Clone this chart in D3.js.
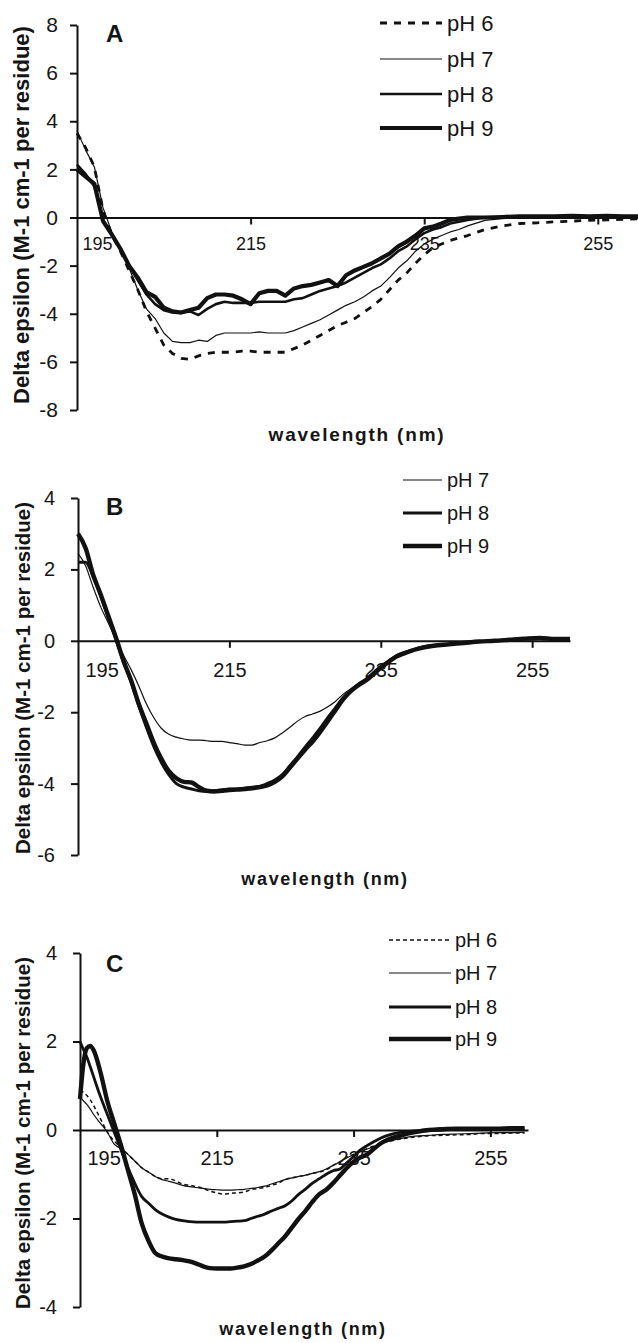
<!DOCTYPE html>
<html>
<head>
<meta charset="utf-8">
<script src="https://cdn.jsdelivr.net/npm/d3@7"></script>
<style>
  body { margin: 0; background: #fff; }
  svg text { font-family: Arial, "Liberation Sans", sans-serif; fill: #151515; }
</style>
</head>
<body>
<div id="chart"></div>
<script>
// wavelengths (nm) used in panels A and B
const wavelengthAB = [195,196,197,198,199,200,201,202,203,204,205,206,207,208,209,210,211,212,213,214,
  215,216,217,218,219,220,221,222,223,224,225,226,227,228,229,230,231,232,233,234,235,236,237,238,239,240,
  242,244,246,248,250,252,254,256,258,260];
// panel C has two extra points at the start
const wavelengthC = [195,195.5,196,196.5,197,198,199,200,201,202,203,204,205,206,207,208,209,210,211,212,213,214,
  215,216,217,218,219,220,221,222,223,224,225,226,227,228,229,230,231,232,233,234,235,236,237,238,239,240,
  242,244,246,248,250,252,254,256,258,260];

const xTicks = [195, 215, 235, 255];
const yTicksA = [-8, -6, -4, -2, 0, 2, 4, 6, 8];
const yTicksB = [-6, -4, -2, 0, 2, 4];
const yTicksC = [-4, -2, 0, 2, 4];

// panel A
const pH6A = [3.5,2.9,2.1,0.3,-0.7,-1.4,-2.2,-3.0,-3.9,-4.6,
  -5.3,-5.65,-5.85,-5.9,-5.75,-5.65,-5.6,-5.6,-5.6,-5.55,
  -5.55,-5.6,-5.6,-5.6,-5.6,-5.45,-5.3,-5.1,-4.9,-4.7,
  -4.5,-4.35,-4.2,-3.95,-3.7,-3.4,-3.0,-2.6,-2.3,-1.9,
  -1.55,-1.25,-1.1,-0.95,-0.85,-0.75,
  -0.5,-0.35,-0.25,-0.22,-0.18,-0.15,-0.12,-0.1,-0.08,-0.05];
const pH7A = [3.6,2.8,2.1,0.4,-0.6,-1.3,-2.1,-3.0,-3.8,-4.2,
  -4.8,-5.15,-5.2,-5.2,-5.1,-5.15,-4.9,-4.8,-4.8,-4.8,
  -4.8,-4.75,-4.8,-4.8,-4.8,-4.7,-4.55,-4.4,-4.25,-4.05,
  -3.85,-3.65,-3.5,-3.3,-3.05,-2.85,-2.5,-2.1,-1.8,-1.4,
  -1.1,-0.9,-0.75,-0.6,-0.5,-0.35,
  -0.12,-0.05,0.0,0.0,0.02,0.0,0.0,0.0,-0.02,0.0];
const pH8A = [2.2,1.8,1.3,-0.1,-0.7,-1.3,-2.0,-2.6,-3.2,-3.6,
  -3.85,-3.95,-3.95,-3.9,-4.05,-3.8,-3.6,-3.5,-3.55,-3.55,
  -3.55,-3.5,-3.5,-3.5,-3.5,-3.4,-3.35,-3.2,-3.05,-2.95,
  -2.85,-2.7,-2.5,-2.3,-2.1,-1.95,-1.7,-1.4,-1.2,-0.9,
  -0.65,-0.5,-0.4,-0.25,-0.18,-0.1,
  0.0,0.0,0.03,0.03,0.05,0.03,0.05,0.05,0.03,0.03];
const pH9A = [2.0,1.7,1.4,-0.15,-0.7,-1.3,-2.0,-2.5,-3.1,-3.3,
  -3.75,-3.9,-3.95,-3.85,-3.75,-3.35,-3.2,-3.2,-3.25,-3.4,
  -3.6,-3.15,-3.05,-3.05,-3.25,-2.95,-2.85,-2.8,-2.7,-2.6,
  -2.85,-2.4,-2.2,-2.05,-1.9,-1.7,-1.5,-1.2,-1.0,-0.75,
  -0.45,-0.38,-0.25,-0.1,-0.05,0.0,
  0.0,0.02,0.05,0.05,0.05,0.07,0.05,0.07,0.05,0.05];

// panel B
const pH7B = [2.45,2.1,1.5,0.95,0.5,0.05,-0.4,-0.8,-1.25,-1.75,
  -2.15,-2.45,-2.62,-2.7,-2.75,-2.78,-2.78,-2.8,-2.82,-2.82,
  -2.85,-2.88,-2.92,-2.92,-2.85,-2.8,-2.72,-2.58,-2.42,-2.25,
  -2.12,-2.05,-1.97,-1.85,-1.7,-1.5,-1.35,-1.2,-1.08,-0.92,
  -0.75,-0.6,-0.46,-0.36,-0.28,-0.22,
  -0.14,-0.09,-0.05,-0.02,0.0,0.03,0.05,0.07,0.04,0.03];
const pH8B = [2.2,2.2,1.8,1.25,0.65,0.05,-0.6,-1.15,-1.8,-2.4,
  -2.95,-3.4,-3.75,-4.0,-4.1,-4.15,-4.2,-4.22,-4.2,-4.18,
  -4.15,-4.15,-4.13,-4.1,-4.08,-4.0,-3.9,-3.75,-3.5,-3.25,
  -2.98,-2.72,-2.45,-2.15,-1.88,-1.6,-1.4,-1.22,-1.08,-0.9,
  -0.72,-0.57,-0.43,-0.34,-0.27,-0.2,
  -0.13,-0.09,-0.05,-0.02,0.0,0.03,0.06,0.08,0.05,0.05];
const pH9B = [3.0,2.6,1.85,1.3,0.7,0.1,-0.55,-1.1,-1.75,-2.3,
  -2.85,-3.3,-3.65,-3.85,-3.95,-3.97,-4.1,-4.2,-4.22,-4.2,
  -4.18,-4.17,-4.15,-4.13,-4.1,-4.05,-3.95,-3.8,-3.55,-3.3,
  -3.05,-2.82,-2.55,-2.25,-1.95,-1.65,-1.42,-1.25,-1.12,-0.95,
  -0.75,-0.6,-0.45,-0.36,-0.28,-0.22,
  -0.14,-0.1,-0.06,-0.02,0.0,0.03,0.06,0.08,0.05,0.05];

// panel C
const pH6C = [0.9,0.85,0.78,0.68,0.55,0.25,-0.05,-0.25,-0.4,-0.55,-0.7,-0.85,
  -0.95,-1.05,-1.1,-1.1,-1.15,-1.22,-1.25,-1.28,-1.32,-1.38,
  -1.42,-1.45,-1.43,-1.42,-1.4,-1.35,-1.32,-1.3,-1.25,-1.2,
  -1.12,-1.08,-1.05,-1.02,-0.98,-0.95,-0.9,-0.8,-0.72,-0.62,
  -0.55,-0.48,-0.42,-0.36,-0.3,-0.26,
  -0.2,-0.16,-0.13,-0.12,-0.11,-0.1,-0.08,-0.08,-0.07,-0.07];
const pH7C = [0.75,0.66,0.58,0.47,0.35,0.15,-0.05,-0.32,-0.42,-0.55,-0.7,-0.85,
  -0.95,-1.05,-1.12,-1.16,-1.2,-1.25,-1.28,-1.3,-1.32,-1.34,
  -1.35,-1.36,-1.36,-1.35,-1.34,-1.32,-1.3,-1.27,-1.22,-1.17,
  -1.12,-1.08,-1.05,-1.02,-0.98,-0.94,-0.88,-0.8,-0.72,-0.63,
  -0.56,-0.49,-0.43,-0.37,-0.31,-0.26,
  -0.19,-0.14,-0.12,-0.1,-0.09,-0.08,-0.07,-0.06,-0.06,-0.05];
const pH8C = [2.0,1.82,1.65,1.43,1.2,0.75,0.35,-0.05,-0.45,-0.85,-1.2,-1.5,
  -1.65,-1.8,-1.9,-1.97,-2.02,-2.05,-2.07,-2.08,-2.08,-2.08,
  -2.08,-2.08,-2.07,-2.06,-2.05,-2.0,-1.95,-1.9,-1.83,-1.77,
  -1.71,-1.6,-1.45,-1.33,-1.2,-1.1,-1.0,-0.92,-0.88,-0.74,
  -0.6,-0.45,-0.35,-0.26,-0.18,-0.12,
  -0.05,-0.02,0.0,0.0,0.02,0.02,0.03,0.03,0.03,0.03];
const pH9C = [0.7,1.5,1.85,1.9,1.8,1.3,0.65,0.15,-0.35,-0.9,-1.45,-2.1,
  -2.5,-2.78,-2.86,-2.9,-2.92,-2.94,-2.97,-3.02,-3.08,-3.12,
  -3.13,-3.13,-3.13,-3.11,-3.08,-3.03,-2.95,-2.86,-2.72,-2.56,
  -2.4,-2.2,-2.0,-1.82,-1.62,-1.45,-1.35,-1.2,-1.03,-0.86,
  -0.72,-0.62,-0.55,-0.42,-0.3,-0.22,
  -0.12,-0.05,0.0,0.02,0.03,0.03,0.03,0.03,0.04,0.04];

const yTitle = "Delta epsilon (M-1 cm-1 per residue)";
const xTitle = "wavelength (nm)";

// line styles per pH
const styles = {
  "pH 6": { w: 2.8, dash: "7,7" },
  "pH 7": { w: 1.2, dash: null },
  "pH 8": { w: 2.6, dash: null },
  "pH 9": { w: 4.2, dash: null }
};
const stylesC = {
  "pH 6": { w: 1.5, dash: "4,3" },
  "pH 7": { w: 1.2, dash: null },
  "pH 8": { w: 2.8, dash: null },
  "pH 9": { w: 4.4, dash: null }
};

const width = 638, height = 1343;
const svg = d3.select("#chart").append("svg")
  .attr("width", width).attr("height", height);

const panels = [
  {
    label: "A", labelY: 42,
    wl: wavelengthAB, xDomain: [195, 260], xRange: [77, 641.2],
    yDomain: [-8, 8], yRange: [410, 25], yTicks: yTicksA,
    series: [["pH 6", pH6A], ["pH 7", pH7A], ["pH 8", pH8A], ["pH 9", pH9A]],
    st: styles, curve: d3.curveLinear,
    yFont: 21, yPad: 12, xFont: 18, xPad: 13, firstShift: 5,
    legend: { x0: 380, x1: 442, tx: 447, ys: [23, 59, 94, 128], fs: 22 },
    xt: { x: 357, y: 441, fs: 19, ls: 1.8 },
    yt: { x: 29, y: 215, fs: 22 }
  },
  {
    label: "B", labelY: 515,
    wl: wavelengthAB, xDomain: [195, 260], xRange: [78, 570],
    yDomain: [-6, 4], yRange: [855, 498], yTicks: yTicksB,
    series: [["pH 7", pH7B], ["pH 8", pH8B], ["pH 9", pH9B]],
    st: { "pH 7": { w: 1.2 }, "pH 8": { w: 3 }, "pH 9": { w: 4.4 } },
    curve: d3.curveMonotoneX,
    yFont: 20, yPad: 16, xFont: 20, xPad: 15, firstShift: 7,
    legend: { x0: 403, x1: 442, tx: 447, ys: [480, 513, 546], fs: 20 },
    xt: { x: 325, y: 885, fs: 18, ls: 1.7 },
    yt: { x: 30, y: 678, fs: 20.5 }
  },
  {
    label: "C", labelY: 972,
    wl: wavelengthC, xDomain: [195, 260.5], xRange: [80, 528],
    yDomain: [-4, 4], yRange: [1307, 953], yTicks: yTicksC,
    series: [["pH 6", pH6C], ["pH 7", pH7C], ["pH 8", pH8C], ["pH 9", pH9C]],
    st: stylesC, curve: d3.curveMonotoneX,
    yFont: 20, yPad: 16, xFont: 20, xPad: 14, firstShift: 7,
    legend: { x0: 389, x1: 451, tx: 455, ys: [940, 973, 1007, 1039], fs: 20 },
    xt: { x: 303, y: 1335, fs: 18, ls: 1.7 },
    yt: { x: 30, y: 1133, fs: 20.5 }
  }
];

panels.forEach(p => {
  const x = d3.scaleLinear().domain(p.xDomain).range(p.xRange);
  const y = d3.scaleLinear().domain(p.yDomain).range(p.yRange);
  const g = svg.append("g");

  // y axis
  const ya = g.append("g")
    .attr("transform", `translate(${p.xRange[0]},0)`)
    .call(d3.axisLeft(y).tickValues(p.yTicks).tickSize(7).tickSizeOuter(0)
      .tickPadding(p.yPad).tickFormat(d3.format("d")));
  ya.selectAll("path, line").attr("stroke", "#111").attr("stroke-width", 2);
  ya.selectAll("text").attr("font-size", p.yFont).attr("font-family", null)
    .text(d => String(d));

  // x axis through zero
  const xa = g.append("g")
    .attr("transform", `translate(0,${y(0)})`)
    .call(d3.axisBottom(x).tickValues(xTicks).tickSize(7).tickSizeOuter(0)
      .tickPadding(p.xPad));
  xa.selectAll("path, line").attr("stroke", "#111").attr("stroke-width", 2);
  xa.selectAll("text").attr("font-size", p.xFont).attr("font-family", null);
  xa.selectAll(".tick").filter(d => d === 195).select("line").remove();
  xa.selectAll(".tick").filter(d => d === 195).select("text")
    .attr("text-anchor", "start").attr("x", p.firstShift);

  // curves
  const line = d3.line()
    .x(d => x(d[0])).y(d => y(d[1])).curve(p.curve);
  p.series.forEach(([name, vals]) => {
    const s = p.st[name];
    g.append("path")
      .datum(p.wl.map((w, i) => [w, vals[i]]))
      .attr("fill", "none")
      .attr("stroke", "#111")
      .attr("stroke-width", s.w)
      .attr("stroke-linejoin", "round")
      .attr("stroke-dasharray", s.dash || null)
      .attr("d", line);
  });

  // legend
  p.series.forEach(([name], i) => {
    const s = p.st[name];
    const ly = p.legend.ys[i];
    g.append("line")
      .attr("x1", p.legend.x0).attr("x2", p.legend.x1)
      .attr("y1", ly).attr("y2", ly)
      .attr("stroke", "#111").attr("stroke-width", s.w)
      .attr("stroke-dasharray", s.dash || null);
    g.append("text")
      .attr("x", p.legend.tx).attr("y", ly)
      .attr("dy", "0.36em")
      .attr("font-size", p.legend.fs)
      .text(name);
  });

  // panel letter
  g.append("text")
    .attr("x", 106).attr("y", p.labelY)
    .attr("font-size", 24).attr("font-weight", "bold")
    .text(p.label);

  // axis titles
  g.append("text")
    .attr("x", p.xt.x).attr("y", p.xt.y)
    .attr("text-anchor", "middle")
    .attr("font-size", p.xt.fs).attr("font-weight", "bold")
    .attr("letter-spacing", p.xt.ls)
    .text(xTitle);

  g.append("text")
    .attr("transform", `translate(${p.yt.x},${p.yt.y}) rotate(-90)`)
    .attr("text-anchor", "middle")
    .attr("font-size", p.yt.fs).attr("font-weight", "bold")
    .text(yTitle);
});
</script>
</body>
</html>
